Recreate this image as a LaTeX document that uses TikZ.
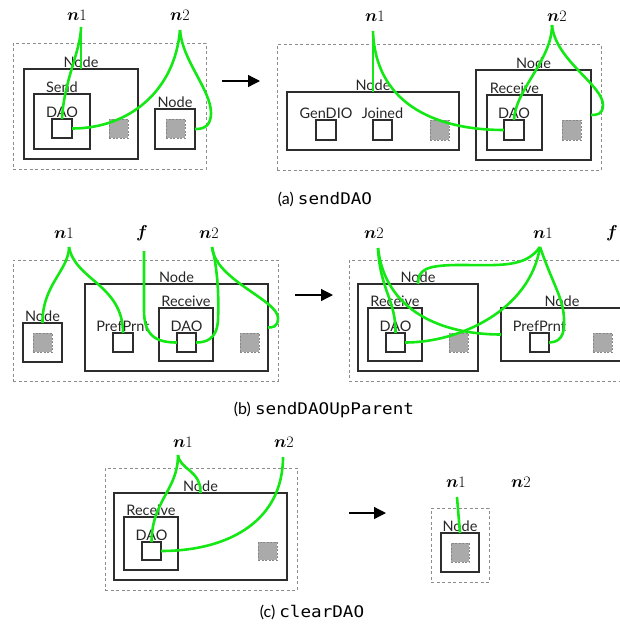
\documentclass[tikz,border=0pt]{standalone}
\usepackage{fontspec}
\usepackage{bm}
\setmainfont{Lato}
\newfontfamily\lmr{Latin Modern Roman}
\newfontfamily\cmono{DejaVu Sans Mono}[FakeStretch=1.1]
\usetikzlibrary{arrows.meta}
\definecolor{grn}{RGB}{20,232,20}
\definecolor{dgray}{RGB}{45,45,45}
\definecolor{sqfill}{RGB}{170,170,170}
\definecolor{sqline}{RGB}{135,135,135}
\definecolor{outline}{RGB}{140,140,140}
\tikzset{
  box/.style={draw=dgray, line width=1.2pt, inner sep=0pt, outer sep=0pt},
  outerbox/.style={draw=outline, dash pattern=on 3pt off 2.5pt, line width=0.9pt, inner sep=0pt, outer sep=0pt},
  gsq/.style={fill=sqfill, draw=sqline, dash pattern=on 2pt off 1.5pt, line width=0.8pt, inner sep=0pt, outer sep=0pt},
  lab/.style={font=\fontsize{14.5}{14.5}\selectfont, inner sep=1.2pt, anchor=south, text=black!85},
  nlab/.style={font=\fontsize{16}{16}\selectfont\lmr, inner sep=0pt},
  captext/.style={font=\fontsize{16}{16}\selectfont, inner sep=0pt},
  wire/.style={draw=grn, line width=2.6pt},
  trans/.style={-{Triangle[length=12pt,width=12pt]}, line width=1.3pt}
}
\newcommand{\bx}[6]{\node[#6, minimum width={(#4)-(#2)}, minimum height={(#5)-(#3)}] (#1) at ({((#2)+(#4))/2},{((#3)+(#5))/2}) {};}
\newcommand{\blab}[2]{\node[lab] at (#1.north) {#2};}
\begin{document}
\begin{tikzpicture}[x=1pt,y=-1pt]
\path[use as bounding box] (0,0) rectangle (620,633);
\clip (0,0) rectangle (620,633);

% ---------- (a) left
\bx{aLo}{13}{43}{206}{169}{outerbox}
\bx{aLn}{24}{69}{138}{159}{box}\blab{aLn}{Node}
\bx{aLs}{34}{94}{90}{149}{box}\blab{aLs}{Send}
\bx{aLd}{52}{119}{72}{138}{box}\blab{aLd}{DAO}
\bx{aLg}{109}{119}{128}{138}{gsq}
\bx{aLm}{155}{109}{195}{149}{box}\blab{aLm}{Node}
\bx{aLh}{166}{119}{185}{138}{gsq}
\node[nlab] (aLn1) at (77,15) {$\bm{n}$1};
\node[nlab] (aLn2) at (180,15) {$\bm{n}$2};
\coordinate (aLp1) at (81,27);
\coordinate (aLp2) at (180,30);
\coordinate (aA1) at (222,81);
\coordinate (aA2) at (260,81);
\draw[trans] (aA1) -- (aA2);

% ---------- (a) right
\bx{aRo}{277}{44}{601}{170}{outerbox}
\bx{aRn}{287}{92}{459}{150}{box}\blab{aRn}{Node}
\bx{aRg1}{316}{120}{336}{140}{box}\blab{aRg1}{GenDIO}
\bx{aRj}{373}{120}{392}{140}{box}\blab{aRj}{Joined}
\bx{aRh}{430}{120}{449}{140}{gsq}
\bx{aRm}{476}{70}{591}{160}{box}\blab{aRm}{Node}
\bx{aRr}{487}{95}{542}{150}{box}\blab{aRr}{Receive}
\bx{aRd}{504}{120}{524}{140}{box}\blab{aRd}{DAO}
\bx{aRk}{562}{120}{581}{140}{gsq}
\node[nlab] (aRn1) at (375,16) {$\bm{n}$1};
\node[nlab] (aRn2) at (557,16) {$\bm{n}$2};
\coordinate (aRp1) at (373,31);
\coordinate (aRp2) at (552,25);

\node[captext] (capa) at (325,199) {(a) {\cmono sendDAO}};

% ---------- (b) left
\bx{bLo}{13}{260}{278}{381}{outerbox}
\bx{bLs}{23}{323}{62}{362}{box}\blab{bLs}{Node}
\bx{bLsg}{33}{333}{52}{352}{gsq}
\bx{bLn}{85}{284}{268}{371}{box}\blab{bLn}{Node}
\bx{bLp}{113}{333}{133}{352}{box}\blab{bLp}{PrefPrnt}
\bx{bLr}{159}{308}{213}{361}{box}\blab{bLr}{Receive}
\bx{bLd}{177}{333}{196}{352}{box}\blab{bLd}{DAO}
\bx{bLg}{240}{333}{259}{352}{gsq}
\node[nlab] (bLn1) at (64,233) {$\bm{n}$1};
\node[nlab] (bLnf) at (142,233) {$\bm{f}$};
\node[nlab] (bLn2) at (209,233) {$\bm{n}$2};
\coordinate (bLp1) at (69,247);
\coordinate (bLf) at (144,251);
\coordinate (bLp2) at (212,247);
\coordinate (bA1) at (295,295);
\coordinate (bA2) at (333,295);
\draw[trans] (bA1) -- (bA2);

% ---------- (b) right
\bx{bRo}{349}{260}{660}{381}{outerbox}
\bx{bRn}{358}{284}{478}{371}{box}\blab{bRn}{Node}
\bx{bRr}{368}{308}{422}{361}{box}\blab{bRr}{Receive}
\bx{bRd}{386}{333}{405}{352}{box}\blab{bRd}{DAO}
\bx{bRg}{449}{333}{468}{352}{gsq}
\bx{bRm}{501}{308}{623}{361}{box}\blab{bRm}{Node}
\bx{bRp}{530}{333}{549}{352}{box}\blab{bRp}{PrefPrnt}
\bx{bRk}{593}{333}{612}{352}{gsq}
\node[nlab] (bRn2) at (374,233) {$\bm{n}$2};
\node[nlab] (bRn1) at (543,233) {$\bm{n}$1};
\node[nlab] (bRnf) at (612,233) {$\bm{f}$};
\coordinate (bRp2) at (378,248);
\coordinate (bRp1) at (540,247);

\node[captext] (capb) at (324,410) {(b) {\cmono sendDAOUpParent}};

% ---------- (c)
\bx{cLo}{105}{468}{297}{590}{outerbox}
\bx{cLn}{114}{493}{287}{580}{box}\blab{cLn}{Node}
\bx{cLr}{124}{517}{178}{570}{box}\blab{cLr}{Receive}
\bx{cLd}{142}{542}{161}{560}{box}\blab{cLd}{DAO}
\bx{cLg}{258}{542}{277}{560}{gsq}
\node[nlab] (cLn1) at (183,442) {$\bm{n}$1};
\node[nlab] (cLn2) at (284,442) {$\bm{n}$2};
\coordinate (cLp1) at (178,455);
\coordinate (cLp2) at (283,457);
\coordinate (cA1) at (349,513);
\coordinate (cA2) at (386,513);
\draw[trans] (cA1) -- (cA2);
\bx{cRo}{431}{508}{489}{582}{outerbox}
\bx{cRn}{441}{533}{479}{572}{box}\blab{cRn}{Node}
\bx{cRg}{451}{543}{469}{562}{gsq}
\node[nlab] (cRn1) at (456,482) {$\bm{n}$1};
\node[nlab] (cRn2) at (521,482) {$\bm{n}$2};
\coordinate (cRp1) at (457,497);

\node[captext] (capc) at (312,612) {(c) {\cmono clearDAO}};

% ---------- wires
\draw[wire] (aLp1) -- (aLn.north);
\draw[wire] (aLp1) .. controls (81,50) and (64,80) .. (aLd.north);
\draw[wire] (aLp2) .. controls (175,90) and (130,128.5) .. (aLd.east);
\draw[wire] (aLp2) .. controls (182,60) and (211,90) .. (211,113) .. controls (211,129) and (200,129) .. (aLm.east);

\draw[wire] (aRp1) -- (aRn.north);
\draw[wire] (aRp1) .. controls (375,100) and (430,130) .. (aRd.west);
\draw[wire] (aRp2) .. controls (552,60) and (515,90) .. (aRd.north);
\draw[wire] (aRp2) .. controls (555,60) and (603,85) .. (603,105) .. controls (603,115) and (596,115) .. (aRm.east);

\draw[wire] (bLp1) .. controls (69,270) and (42,285) .. (bLs.north);
\draw[wire] (bLp1) .. controls (75,280) and (123,285) .. (bLp.north);
\draw[wire] (bLf) -- (144,310) .. controls (144,335) and (155,342.5) .. (bLd.west);
\draw[wire] (bLp2) .. controls (218,270) and (219,300) .. (218,320) .. controls (217,340) and (205,342.5) .. (bLd.east);
\draw[wire] (bLp2) .. controls (215,280) and (278,300) .. (278,318) .. controls (278,327.5) and (272,327.5) .. (bLn.east);

\draw[wire] (bRp2) .. controls (380,290) and (396,300) .. (bRd.north);
\draw[wire] (bRp2) .. controls (385,310) and (440,334.5) .. (bRm.west);
\draw[wire] (bRp1) .. controls (525,268) and (500,265) .. (460,265) .. controls (425,265) and (418,270) .. (bRn.north);
\draw[wire] (bRp1) .. controls (530,310) and (460,342.5) .. (bRd.east);
\draw[wire] (bRp1) .. controls (555,290) and (565,300) .. (564,325) .. controls (564,340) and (555,342.5) .. (bRp.east);

\draw[wire] (cLp1) .. controls (178,490) and (152,500) .. (cLd.north);
\draw[wire] (cLp1) .. controls (180,470) and (201,470) .. (cLn.north);
\draw[wire] (cLp2) .. controls (283,520) and (230,551) .. (cLd.east);
\draw[wire] (cRp1) -- (cRn.north);
\end{tikzpicture}
\end{document}
